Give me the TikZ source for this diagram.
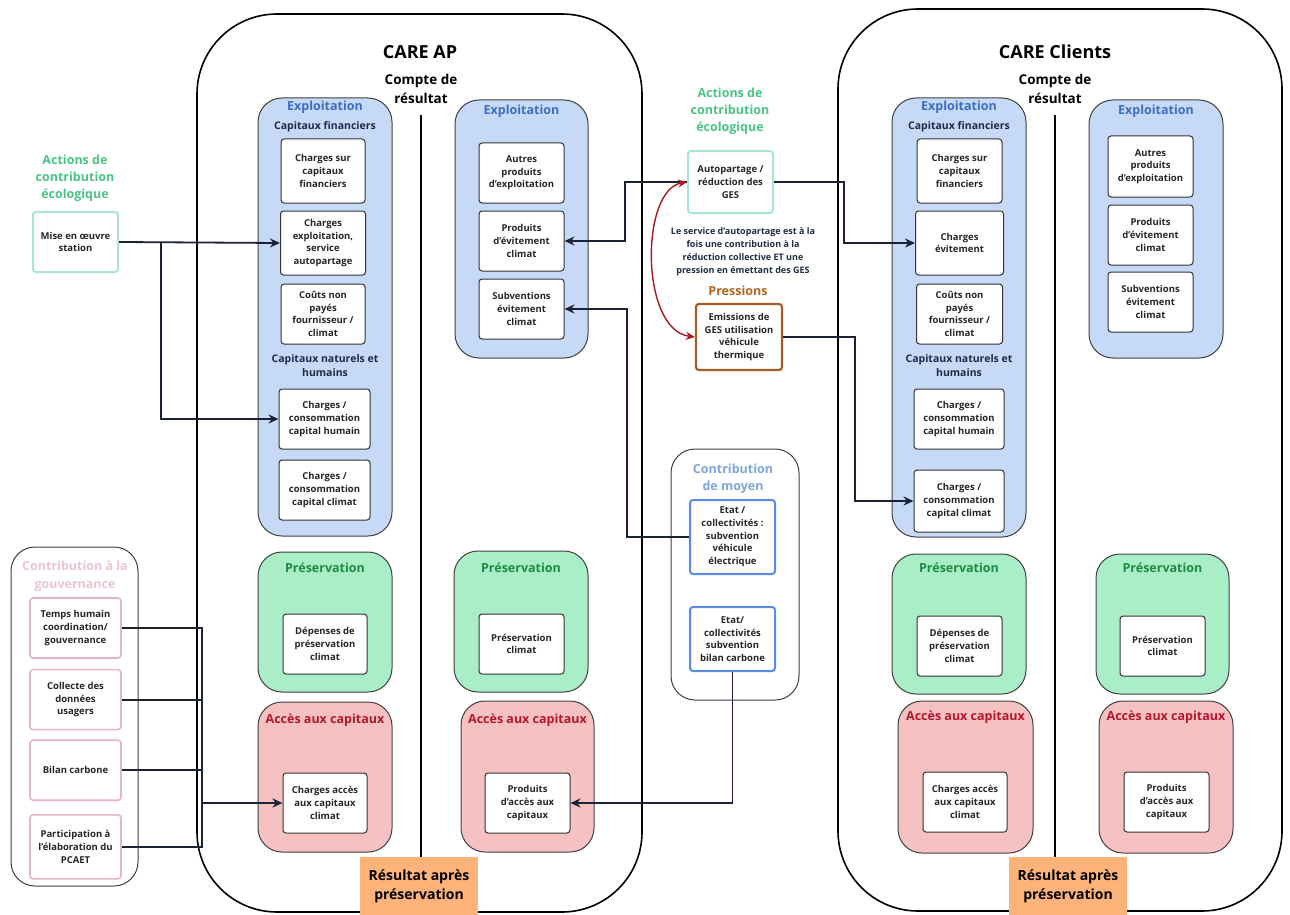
\documentclass[tikz,border=0pt]{standalone}
\usepackage{fontspec}
\setmainfont{Open Sans}
\usepackage{xcolor}
\usetikzlibrary{arrows.meta, positioning}

\definecolor{panelblue}{HTML}{C6D9F7}
\definecolor{titleblue}{HTML}{3C6EC2}
\definecolor{panelgreen}{HTML}{A9EEC6}
\definecolor{titlegreen}{HTML}{1C8A47}
\definecolor{panelred}{HTML}{F6C1C1}
\definecolor{titlered}{HTML}{B5162B}
\definecolor{resorange}{HTML}{FDB37A}
\definecolor{ecogreen}{HTML}{49C485}
\definecolor{ecoborder}{HTML}{ABE5CC}
\definecolor{pressbrown}{HTML}{B3651F}
\definecolor{pressborder}{HTML}{A65B2A}
\definecolor{moyenblue}{HTML}{7EA5D9}
\definecolor{moyenborder}{HTML}{5B8BE0}
\definecolor{gouvpink}{HTML}{EDC3CC}
\definecolor{gouvborder}{HTML}{E5B5C3}
\definecolor{linkdark}{HTML}{1B2236}
\definecolor{curvered}{HTML}{A61A24}
\definecolor{subnavy}{HTML}{1F2B45}

\begin{document}
\begin{tikzpicture}[x=1pt, y=-1pt,
    sz/.style 2 args={minimum width=#1, minimum height=#2},
    care/.style={draw=black, line width=1.6, rounded corners=80, inner sep=0},
    panel/.style={draw=black!75, line width=1, rounded corners=24, inner sep=0},
    bluepanel/.style={panel, fill=panelblue},
    greenpanel/.style={panel, fill=panelgreen},
    redpanel/.style={panel, fill=panelred},
    whitepanel/.style={panel, fill=white},
    item/.style={draw=black!80, line width=1, fill=white, rounded corners=3, align=center, inner sep=1,
        text=black!85, font=\fontsize{9.5}{12.7}\selectfont\bfseries},
    ecoitem/.style={item, draw=ecoborder, line width=2},
    gouvitem/.style={item, draw=gouvborder, line width=1.6},
    ptitle/.style={font=\fontsize{12.5}{15}\selectfont\bfseries},
    subhead/.style={text=subnavy, align=center, font=\fontsize{10.5}{14}\selectfont\bfseries},
    heading/.style={align=center, font=\fontsize{13.5}{19}\selectfont\bfseries},
    grouptitle/.style={align=center, font=\fontsize{12.5}{17}\selectfont\bfseries},
    result/.style={fill=resorange, align=center, inner sep=0, font=\fontsize{14}{19}\selectfont\bfseries},
    link/.style={draw=linkdark, line width=1.8},
    conn/.style={link, -{Stealth[length=10pt, width=9pt]}}]

    \useasboundingbox (0,0) rectangle (1290,915);

    % CARE AP
    \node[care, sz={445}{898}] (ap) at (419.5,463) {};
    \node[font=\fontsize{18}{22}\selectfont\bfseries] (apT) at (420,52) {CARE AP};
    \node[heading] (apCR) at (421,88.5) {Compte de\\résultat};
    \coordinate (apline) at (421,115);

    \node[bluepanel, sz={134}{438}] (apEx) at (325,317) {};
    \node[ptitle, text=titleblue] (apExT) at (325,107) {Exploitation};
    \node[subhead] (apCF) at (325,127) {Capitaux financiers};
    \node[item, sz={84}{64}] (apcs) at (323,171) {Charges sur\\capitaux\\financiers};
    \node[item, sz={85}{64}, below=7pt of apcs] (apchx) {Charges\\exploitation,\\service\\autopartage};
    \node[item, sz={84}{60}, below=8pt of apchx] (apcnp) {Coûts non\\payés\\fournisseur /\\climat};
    \node[subhead] (apCN) at (325,366) {Capitaux naturels et\\humains};
    \node[item, sz={91}{60}] (apcph) at (324.5,419) {Charges /\\consommation\\capital humain};
    \node[item, sz={91}{60}, below=10pt of apcph] (apcpc) {Charges /\\consommation\\capital climat};

    \node[bluepanel, sz={133}{258}] (apPr) at (521.5,229) {};
    \node[ptitle, text=titleblue] (apPrT) at (521.5,111) {Exploitation};
    \node[item, sz={85}{60}] (apap) at (521.5,173) {Autres\\produits\\d'exploitation};
    \node[item, sz={85}{60}, below=7pt of apap] (appe) {Produits\\d'évitement\\climat};
    \node[item, sz={85}{60}, below=7pt of appe] (apsub) {Subventions\\évitement\\climat};

    \node[greenpanel, sz={134}{140}] (apPs) at (325,622) {};
    \node[ptitle, text=titlegreen] (apPsT) at (325,568) {Préservation};
    \node[item, sz={84}{60}] (apdp) at (325,644) {Dépenses de\\préservation\\climat};
    \node[greenpanel, sz={134}{141}] (apPs2) at (521,621.5) {};
    \node[ptitle, text=titlegreen] (apPs2T) at (521,568) {Préservation};
    \node[item, sz={85}{60}] (appc) at (521.5,644) {Préservation\\climat};

    \node[redpanel, sz={134}{150}] (apAc) at (325,777) {};
    \node[ptitle, text=titlered] (apAcT) at (325,720) {Accès aux capitaux};
    \node[item, sz={84}{60}] (apacc) at (325,803) {Charges accès\\aux capitaux\\climat};
    \node[redpanel, sz={133}{151}] (apAc2) at (527.5,776.5) {};
    \node[ptitle, text=titlered] (apAc2T) at (527.5,720) {Accès aux capitaux};
    \node[item, sz={85}{60}] (appa) at (527.5,803) {Produits\\d'accès aux\\capitaux};

    % CARE Clients
    \node[care, sz={444}{902}] (cl) at (1060,460) {};
    \node[font=\fontsize{18}{22}\selectfont\bfseries] (clT) at (1055,52) {CARE Clients};
    \node[heading] (clCR) at (1055,88.5) {Compte de\\résultat};
    \coordinate (clline) at (1055,115);

    \node[bluepanel, sz={134}{439}] (clEx) at (959,317.5) {};
    \node[ptitle, text=titleblue] (clExT) at (959,107) {Exploitation};
    \node[subhead] (clCF) at (959,127) {Capitaux financiers};
    \node[item, sz={85}{64}] (clcs) at (959.5,171) {Charges sur\\capitaux\\financiers};
    \node[item, sz={88}{64}, below=7pt of clcs] (clev) {Charges\\évitement};
    \node[item, sz={86}{60}, below=8pt of clev] (clcnp) {Coûts non\\payés\\fournisseur /\\climat};
    \node[subhead] (clCN) at (959,366) {Capitaux naturels et\\humains};
    \node[item, sz={90}{60}] (clcph) at (959,419) {Charges /\\consommation\\capital humain};
    \node[item, sz={90}{62}, below=20pt of clcph] (clcpc) {Charges /\\consommation\\capital climat};

    \node[bluepanel, sz={134}{258}] (clPr) at (1156,229) {};
    \node[ptitle, text=titleblue] (clPrT) at (1156,111) {Exploitation};
    \node[item, sz={85}{61}] (clap) at (1150.5,166.5) {Autres\\produits\\d'exploitation};
    \node[item, sz={85}{60}, below=7pt of clap] (clpe) {Produits\\d'évitement\\climat};
    \node[item, sz={85}{60}, below=6pt of clpe] (clsub) {Subventions\\évitement\\climat};

    \node[greenpanel, sz={134}{140}] (clPs) at (959,624) {};
    \node[ptitle, text=titlegreen] (clPsT) at (959,568) {Préservation};
    \node[item, sz={85}{60}] (cldp) at (959.5,646) {Dépenses de\\préservation\\climat};
    \node[greenpanel, sz={133}{140}] (clPs2) at (1162.5,624) {};
    \node[ptitle, text=titlegreen] (clPs2T) at (1162.5,568) {Préservation};
    \node[item, sz={85}{60}] (clpc) at (1162.5,646) {Préservation\\climat};

    \node[redpanel, sz={135}{152}] (clAc) at (965.5,777) {};
    \node[ptitle, text=titlered] (clAcT) at (965.5,717) {Accès aux capitaux};
    \node[item, sz={84}{60}] (clacc) at (965,802) {Charges accès\\aux capitaux\\climat};
    \node[redpanel, sz={134}{152}] (clAc2) at (1166,777) {};
    \node[ptitle, text=titlered] (clAc2T) at (1166,717) {Accès aux capitaux};
    \node[item, sz={85}{60}] (clpa) at (1166.5,802) {Produits\\d'accès aux\\capitaux};

    % contributions hors CARE
    \node[grouptitle, text=ecogreen] (ecoL) at (75,178) {Actions de\\contribution\\écologique};
    \node[ecoitem, sz={85}{60}] (mise) at (75.5,242) {Mise en œuvre\\station};

    \node[whitepanel, sz={127}{339}] (gouv) at (74.5,716.5) {};
    \node[grouptitle, text=gouvpink, font=\fontsize{12.5}{18}\selectfont\bfseries] (gouvT) at (75,576) {Contribution à la\\gouvernance};
    \node[gouvitem, sz={91}{60}] (temps) at (75.5,628) {Temps humain\\coordination/\\gouvernance};
    \node[gouvitem, sz={91}{60}, below=10pt of temps] (collecte) {Collecte des\\données\\usagers};
    \node[gouvitem, sz={91}{60}, below=9pt of collecte] (bilan) {Bilan carbone};
    \node[gouvitem, sz={91}{64}, below=13pt of bilan] (pcaet) {Participation à\\l'élaboration du\\PCAET};

    \node[grouptitle, text=ecogreen] (ecoM) at (730,111) {Actions de\\contribution\\écologique};
    \node[ecoitem, sz={85}{62}] (autop) at (730.5,182) {Autopartage /\\réduction des\\GES};
    \node[align=center, text=subnavy, font=\fontsize{9}{13}\selectfont\bfseries] (note) at (743,251.5)
        {Le service d'autopartage est à la\\fois une contribution à la\\réduction collective ET une\\pression en émettant des GES};
    \node[ptitle, text=pressbrown] (pressT) at (738,291) {Pressions};
    \node[item, draw=pressborder, line width=2.2, sz={86}{66}] (emis) at (739,337) {Emissions de\\GES utilisation\\véhicule\\thermique};

    \node[whitepanel, sz={128}{251}] (moyen) at (735,574.5) {};
    \node[grouptitle, text=moyenblue] (moyenT) at (733,478.5) {Contribution\\de moyen};
    \node[item, draw=moyenborder, line width=2, sz={85}{74}] (etat1) at (732.5,537) {Etat /\\collectivités :\\subvention\\véhicule\\électrique};
    \node[item, draw=moyenborder, line width=2, sz={85}{64}] (etat2) at (732.5,639) {Etat/\\collectivités\\subvention\\bilan carbone};

    % liens
    \coordinate (misej) at (161,242);
    \draw[conn] (mise.east) -- (apchx.west);
    \draw[conn] (misej) |- (apcph.west);

    \coordinate (gouvj) at (202,803);
    \draw[link] (temps.east) -| (gouvj);
    \draw[link] (collecte.east) -| (gouvj);
    \draw[link] (bilan.east) -| (gouvj);
    \draw[link] (pcaet.east) -| (gouvj);
    \draw[conn] (gouvj) -- (apacc.west);

    \draw[conn] (autop.west) -- ++(-62,0) |- (appe.east);
    \draw[conn] (autop.east) -- ++(70,0) |- (clev.west);
    \draw[conn] (emis.east) -- ++(72,0) |- (clcpc.west);
    \draw[conn] (etat1.west) -- ++(-62,0) |- (apsub.east);
    \draw[conn] (etat2.south) |- (appa.east);

    \draw[curvered, line width=1.4, {Stealth[length=9pt, width=8pt]}-{Stealth[length=9pt, width=8pt]}]
        (autop.west) .. controls (640,190) and (640,330) .. (emis.west);

    % resultat
    \node[result, sz={118}{58}] (apRes) at (419,886) {Résultat après\\préservation};
    \node[result, sz={118}{58}] (clRes) at (1068,886) {Résultat après\\préservation};
    \draw[black, line width=1.6] (apline) -- (apRes.north -| apline);
    \draw[black, line width=1.6] (clline) -- (clRes.north -| clline);
\end{tikzpicture}
\end{document}
